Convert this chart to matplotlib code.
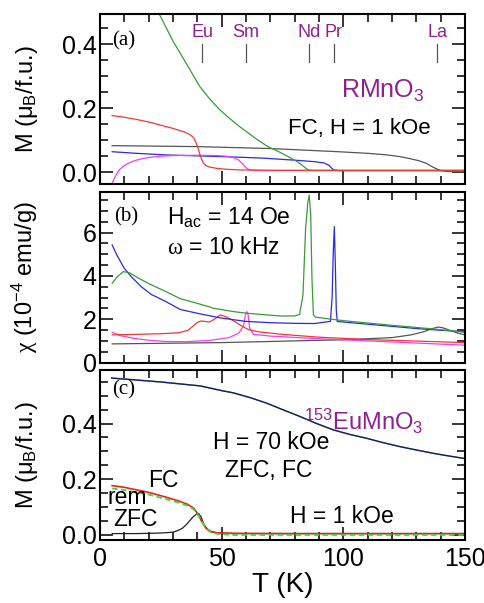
import matplotlib
matplotlib.use("Agg")
import matplotlib.pyplot as plt
from matplotlib.ticker import MultipleLocator

plt.rcParams['font.family'] = ['Liberation Sans', 'DejaVu Sans']
plt.rcParams['mathtext.fontset'] = 'custom'
plt.rcParams['mathtext.rm'] = 'Liberation Sans'
plt.rcParams['mathtext.it'] = 'Liberation Sans:italic'
plt.rcParams['mathtext.sf'] = 'Liberation Serif'
plt.rcParams['mathtext.default'] = 'rm'

# ---------------- Panel (a): RMnO3, FC, H = 1 kOe ----------------
T_a_eu = [5, 10, 15, 20, 25, 30, 35, 37, 38.5, 39.7, 40.5, 41.1, 41.8, 42.5, 43.5, 45, 48, 52, 58, 70, 100, 150]
M_a_eu = [0.177, 0.172, 0.165, 0.157, 0.147, 0.137, 0.125, 0.117, 0.108, 0.088, 0.070, 0.054, 0.040, 0.028,
          0.021, 0.016, 0.012, 0.009, 0.007, 0.006, 0.006, 0.006]
T_a_sm = [5, 6, 7, 8, 9.5, 11, 13.5, 16, 20, 25, 30, 40, 48, 52, 55, 57, 58.5, 60, 61.5, 65, 150]
M_a_sm = [-0.034, -0.018, -0.004, 0.008, 0.018, 0.026, 0.034, 0.040, 0.046, 0.050, 0.052, 0.053, 0.052,
          0.050, 0.045, 0.038, 0.027, 0.014, 0.007, 0.005, 0.005]
T_a_nd = [24, 27, 30, 33, 37, 41, 45, 49, 53, 57, 61, 65, 69, 73, 77, 81, 83, 85, 86, 88, 150]
M_a_nd = [0.50, 0.455, 0.41, 0.372, 0.32, 0.268, 0.23, 0.197, 0.17, 0.145, 0.122, 0.10, 0.08, 0.066, 0.05,
          0.033, 0.022, 0.010, 0.006, 0.005, 0.005]
T_a_pr = [5, 15, 27, 40, 53, 67, 81, 88, 92, 94, 95, 96, 98, 150]
M_a_pr = [0.064, 0.059, 0.054, 0.051, 0.048, 0.044, 0.037, 0.033, 0.029, 0.022, 0.014, 0.007, 0.005, 0.005]
T_a_la = [5, 40, 70, 98, 110, 118, 123, 127, 131, 134, 137, 140, 143, 150]
M_a_la = [0.083, 0.080, 0.074, 0.064, 0.059, 0.054, 0.049, 0.043, 0.036, 0.028, 0.015, 0.005, 0.002, 0.002]

marker_names = ['Eu', 'Sm', 'Nd', 'Pr', 'La']
marker_T = [42, 60, 86, 96, 138.5]

# ---------------- Panel (b): ac susceptibility ----------------
T_b_eu = [5, 15, 25, 32, 36, 38.5, 40, 41.5, 43, 45, 47, 49.5, 52, 55, 58, 61, 65, 75, 90, 110, 130, 150]
X_b_eu = [1.28, 1.30, 1.33, 1.37, 1.48, 1.70, 1.85, 1.92, 1.90, 1.87, 2.00, 2.20, 2.10, 1.92, 1.70, 1.52,
          1.42, 1.30, 1.17, 1.06, 0.99, 0.92]
T_b_sm = [5, 8, 13.7, 20, 27, 35, 45, 53, 57, 59, 59.8, 60.3, 60.8, 61.5, 63, 70, 90, 110, 130, 150]
X_b_sm = [1.40, 1.25, 1.12, 1.03, 0.97, 0.96, 1.02, 1.15, 1.35, 1.70, 2.20, 2.35, 2.25, 1.60, 1.30, 1.22,
          1.10, 1.00, 0.90, 0.80]
T_b_nd = [5, 7, 9.6, 12, 15, 20, 27, 33, 41, 47, 55, 60, 74, 80, 82, 83.4, 84.5, 85.4, 86, 86.6, 87.1, 87.7,
          88.5, 95, 103, 120, 137, 150]
X_b_nd = [3.66, 3.95, 4.20, 4.15, 3.95, 3.65, 3.28, 2.95, 2.70, 2.50, 2.35, 2.28, 2.15, 2.15, 2.22, 3.10,
          6.20, 7.40, 7.74, 6.80, 3.90, 2.20, 2.10, 2.00, 1.90, 1.72, 1.55, 1.40]
T_b_pr = [5, 7, 10, 13, 17, 21, 27, 33, 41, 50, 60, 70, 80, 88, 94.7, 95.4, 95.8, 96.3, 96.7, 97.1, 97.5,
          100, 110, 120, 130, 140, 150]
X_b_pr = [5.43, 4.95, 4.35, 3.95, 3.50, 3.15, 2.82, 2.45, 2.25, 2.05, 1.90, 1.84, 1.81, 1.80, 1.90, 3.04,
          4.88, 6.28, 4.57, 2.42, 1.90, 1.87, 1.77, 1.67, 1.57, 1.49, 1.42]
T_b_la = [5, 50, 100, 120, 128, 133, 136, 139, 141, 144, 147, 150]
X_b_la = [0.86, 0.92, 1.05, 1.15, 1.28, 1.42, 1.55, 1.64, 1.60, 1.48, 1.36, 1.28]

# ---------------- Panel (c): 153EuMnO3 ----------------
T_c_70 = [4.8, 13.7, 25, 41.1, 50, 54.8, 62, 68.5, 75, 82.2, 89, 95.9, 103, 109.6, 116, 123.3, 130, 137,
          143, 149.4]
M_c_70 = [0.563, 0.557, 0.549, 0.535, 0.518, 0.510, 0.492, 0.473, 0.450, 0.425, 0.400, 0.377, 0.360, 0.347,
          0.332, 0.317, 0.305, 0.293, 0.284, 0.275]
T_c_fc = [5, 10, 15, 20, 27, 32, 36, 38.5, 40, 41, 42, 43, 44, 45.5, 48, 55, 80, 150]
M_c_fc = [0.177, 0.171, 0.162, 0.153, 0.136, 0.123, 0.110, 0.096, 0.078, 0.062, 0.045, 0.032, 0.022, 0.013,
          0.008, 0.006, 0.005, 0.005]
M_c_rem = [0.167, 0.161, 0.153, 0.145, 0.129, 0.117, 0.105, 0.092, 0.076, 0.062, 0.046, 0.032, 0.020, 0.010,
           0.004, 0.000, 0.000, 0.000]
T_c_zfc = [5, 15, 25, 30, 32, 34, 36, 38, 39.5, 40.5, 41.5, 42.5, 43.5, 45, 48, 55, 80, 150]
M_c_zfc = [0.005, 0.005, 0.007, 0.010, 0.016, 0.025, 0.042, 0.063, 0.074, 0.077, 0.066, 0.042, 0.025, 0.013,
           0.007, 0.005, 0.005, 0.005]

# colours
RED = '#ec3b36'
GREEN = '#3a9a3a'
BLUE = '#2a2ae0'
MAGENTA = '#f040f0'
GREY = '#555555'
PURPLE = '#8e2190'

fig = plt.figure(figsize=(4.85, 6.03), dpi=100)
L, W = 100 / 485, 365 / 485
ax_a = fig.add_axes([L, 1 - 184 / 603, W, 170 / 603])
ax_b = fig.add_axes([L, 1 - 362.5 / 603, W, 170.5 / 603])
ax_c = fig.add_axes([L, 1 - 540 / 603, W, 170 / 603])

for ax in (ax_a, ax_b, ax_c):
    ax.set_xlim(0, 150)
    ax.xaxis.set_major_locator(MultipleLocator(50))
    ax.xaxis.set_minor_locator(MultipleLocator(10))
    ax.tick_params(which='both', direction='in', top=True, right=True, labelsize=18)
    ax.tick_params(which='major', length=9.5, width=1.1, pad=2.5)
    ax.tick_params(which='minor', length=5.5, width=1.1)
    ax.tick_params(axis='x', which='major', pad=5)
    for s in ax.spines.values():
        s.set_linewidth(1.5)

# panel a
ax_a.plot(T_a_la, M_a_la, color=GREY, lw=0.9)
ax_a.plot(T_a_pr, M_a_pr, color=BLUE, lw=0.9)
ax_a.plot(T_a_sm, M_a_sm, color=MAGENTA, lw=0.9)
ax_a.plot(T_a_nd, M_a_nd, color=GREEN, lw=0.9)
ax_a.plot(T_a_eu, M_a_eu, color=RED, lw=0.9)
ax_a.set_ylim(-0.037, 0.495)
ax_a.yaxis.set_major_locator(MultipleLocator(0.2))
ax_a.yaxis.set_minor_locator(MultipleLocator(0.05))
ax_a.yaxis.set_major_formatter(plt.FormatStrFormatter('%.1f'))
ax_a.tick_params(labelbottom=False)
ax_a.set_ylabel('M (μ$_\\mathregular{B}$/f.u.)', fontsize=17)
ax_a.yaxis.set_label_coords(-0.165, 0.5)
for name, t in zip(marker_names, marker_T):
    ax_a.plot([t, t], [0.345, 0.40], color=GREY, lw=0.9)
    ax_a.text(t, 0.41, name, color=PURPLE, fontsize=13, ha='center', va='bottom')
ax_a.text(5.0, 0.41, '(a)', family='Liberation Serif', fontsize=15, va='center', ha='left')
ax_a.text(116, 0.255, 'RMnO$_3$', color=PURPLE, fontsize=18, ha='center', va='center')
ax_a.text(106.5, 0.138, 'FC, H = 1 kOe', fontsize=16, ha='center', va='center')

# panel b
ax_b.plot(T_b_la, X_b_la, color=GREY, lw=0.9)
ax_b.plot(T_b_sm, X_b_sm, color=MAGENTA, lw=0.9)
ax_b.plot(T_b_eu, X_b_eu, color=RED, lw=0.9)
ax_b.plot(T_b_pr, X_b_pr, color=BLUE, lw=0.9)
ax_b.plot(T_b_nd, X_b_nd, color=GREEN, lw=0.9)
ax_b.set_ylim(0, 7.88)
ax_b.yaxis.set_major_locator(MultipleLocator(2))
ax_b.yaxis.set_minor_locator(MultipleLocator(0.5))
ax_b.tick_params(labelbottom=False)
ax_b.set_ylabel('$\\mathsf{\\chi}$ (10$^{-4}$ emu/g)', fontsize=17)
ax_b.yaxis.set_label_coords(-0.165, 0.5)
ax_b.text(6.0, 6.74, '(b)', family='Liberation Serif', fontsize=15, va='center', ha='left')
ax_b.text(27.5, 6.68, 'H$_{\\mathregular{ac}}$ = 14 Oe', fontsize=16.5, va='center', ha='left')
ax_b.text(27.5, 5.3, '$\\mathsf{\\omega}$ = 10 kHz', fontsize=16.5, va='center', ha='left')

# panel c
ax_c.plot(T_c_70, M_c_70, color='#66bb66', lw=1.0)
ax_c.plot(T_c_70, M_c_70, color='#1a1a6a', lw=1.0)
ax_c.plot(T_c_zfc, M_c_zfc, color='#222222', lw=0.9)
ax_c.plot(T_c_fc, M_c_fc, color='#ee2020', lw=1.2)
ax_c.plot(T_c_fc, M_c_rem, color='#33dd33', lw=1.3, ls=(0, (3, 2)))
ax_c.set_ylim(-0.018, 0.592)
ax_c.yaxis.set_major_locator(MultipleLocator(0.2))
ax_c.yaxis.set_minor_locator(MultipleLocator(0.05))
ax_c.yaxis.set_major_formatter(plt.FormatStrFormatter('%.1f'))
ax_c.set_ylabel('M (μ$_\\mathregular{B}$/f.u.)', fontsize=17)
ax_c.yaxis.set_label_coords(-0.165, 0.5)
ax_c.set_xlabel('T (K)', fontsize=20, labelpad=1)
ax_c.text(5.0, 0.52, '(c)', family='Liberation Serif', fontsize=15, va='center', ha='left')
ax_c.text(84, 0.407, '$^{153}$EuMnO$_3$', color=PURPLE, fontsize=17, va='center', ha='left')
ax_c.text(70.3, 0.331, 'H = 70 kOe', fontsize=16.5, ha='center', va='center')
ax_c.text(69.5, 0.233, 'ZFC, FC', fontsize=16.5, ha='center', va='center')
ax_c.text(25.9, 0.195, 'FC', fontsize=16.5, ha='center', va='center')
ax_c.text(11, 0.133, 'rem', fontsize=16.5, ha='center', va='center')
ax_c.text(14.6, 0.054, 'ZFC', fontsize=16.5, ha='center', va='center')
ax_c.text(99.3, 0.066, 'H = 1 kOe', fontsize=16.5, ha='center', va='center')

fig.savefig('out.png', dpi=100)
